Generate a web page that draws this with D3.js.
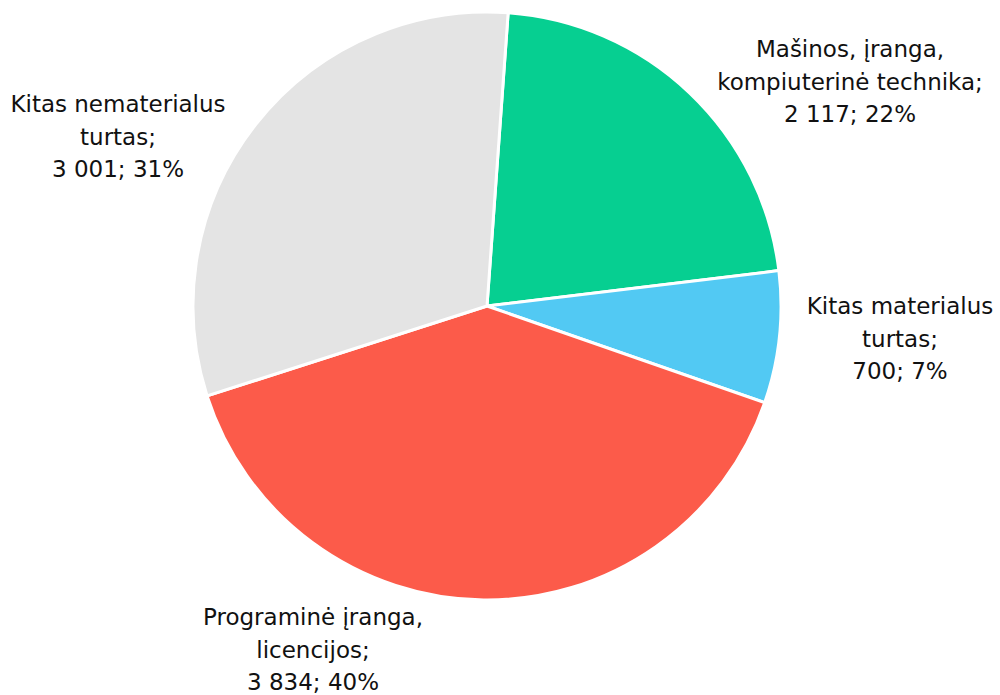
<!DOCTYPE html>
<html>
<head>
<meta charset="utf-8">
<script src="https://cdn.jsdelivr.net/npm/d3@7"></script>
<style>
  body { margin: 0; background: #fff; }
  svg text { font-family: "DejaVu Sans", Verdana, sans-serif; font-size: 23px; fill: #111; }
</style>
</head>
<body>
<div id="container"></div>
<script>
const labels = [
  ["Mašinos, įranga,", "kompiuterinė technika;"],
  ["Kitas materialus", "turtas;"],
  ["Programinė įranga,", "licencijos;"],
  ["Kitas nematerialus", "turtas;"]
];
const values = [2117, 700, 3834, 3001];
const colors = ["#06cf91", "#52c9f3", "#fc5b4a", "#e4e4e4"];
// label anchors (centre x, first line baseline y)
const labelPos = [[850, 57], [900, 314], [313, 625], [118, 112]];

const width = 1000, height = 695;
const cx = 487, cy = 306, radius = 294;
const { PI } = Math;

const svg = d3.select("#container").append("svg")
  .attr("width", width)
  .attr("height", height);

const total = d3.sum(values);
const fmt = (v) => d3.format(",")(v).replace(/,/g, " ");

const pie = d3.pie().sort(null).startAngle(0.072).endAngle(0.072 + 2 * PI);
const arc = d3.arc().innerRadius(0).outerRadius(radius);
const arcs = pie(values);

const g = svg.append("g").attr("transform", `translate(${cx},${cy})`);
g.selectAll("path")
  .data(arcs)
  .join("path")
  .attr("d", arc)
  .attr("fill", (d, i) => colors[i])
  .attr("stroke", "#fff")
  .attr("stroke-width", 3)
  .attr("stroke-linejoin", "round");

const lab = svg.selectAll("text.lbl")
  .data(arcs)
  .join("text")
  .attr("class", "lbl")
  .attr("text-anchor", "middle")
  .attr("x", (d, i) => labelPos[i][0])
  .attr("y", (d, i) => labelPos[i][1]);

lab.each(function (d, i) {
  const t = d3.select(this);
  const lines = [...labels[i], `${fmt(d.data)}; ${Math.round((d.data / total) * 100)}%`];
  lines.forEach((l, j) => {
    t.append("tspan")
      .attr("x", labelPos[i][0])
      .attr("dy", j === 0 ? 0 : 32.5)
      .text(l);
  });
});
</script>
</body>
</html>
